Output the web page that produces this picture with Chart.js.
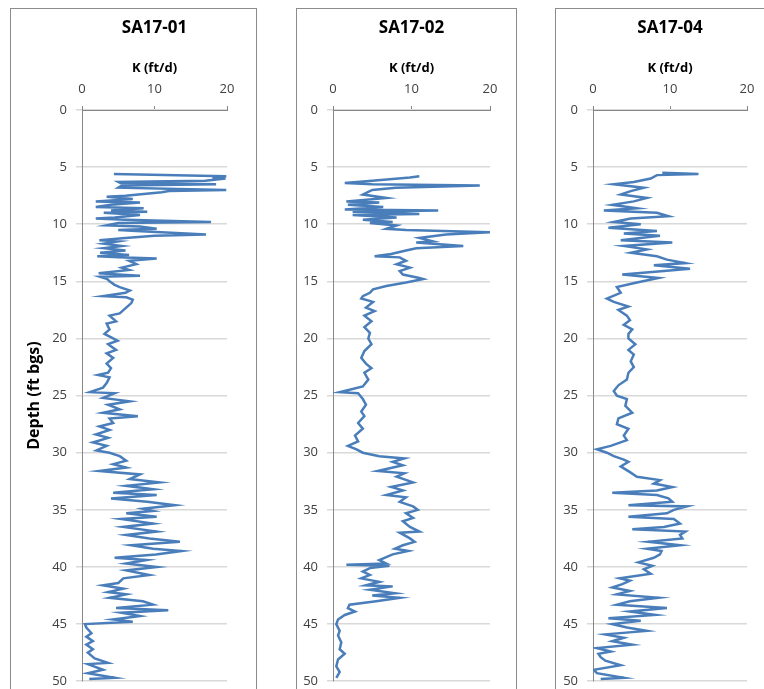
<!DOCTYPE html>
<html>
<head>
<meta charset="utf-8">
<script src="https://cdn.jsdelivr.net/npm/chart.js@4.4.1/dist/chart.umd.min.js"></script>
<style>
  html, body { margin: 0; padding: 0; background: #fff; overflow: hidden; }
  body { width: 764px; height: 689px; position: relative; }
  .panel { position: absolute; top: 8px; height: 690px; }
  .panel::after { content: ''; position: absolute; inset: 0; border: 1.5px solid #8c8c8c; pointer-events: none; }
  .panel canvas { position: absolute; left: 0; top: 0; }
</style>
</head>
<body>
<div class="panel" style="left:10px;width:247px"><canvas id="c1" width="247" height="690"></canvas></div>
<div class="panel" style="left:296px;width:221px"><canvas id="c2" width="221" height="690"></canvas></div>
<div class="panel" style="left:555px;width:221px"><canvas id="c3" width="221" height="690"></canvas></div>
<script>
// well names
const wells = ["SA17-01", "SA17-02", "SA17-04"];

// SA17-01: depth (ft bgs) and K (ft/d)
const depth1 = [5.6, 5.8, 5.9, 6.0, 6.2, 6.3, 6.4, 6.5, 6.6, 6.8, 7.0, 7.1, 7.2, 7.5, 7.6, 7.8, 8.0, 8.1, 8.3, 8.5,
  8.6, 8.8, 8.9, 9.0, 9.2, 9.4, 9.5, 9.6, 9.8, 9.9, 10.1, 10.2, 10.4, 10.5, 10.6, 10.9, 11.0, 11.2, 11.4, 11.5,
  11.7, 11.9, 12.1, 12.3, 12.5, 12.7, 12.8, 12.9, 13.0, 13.2, 13.5, 13.8, 14.0, 14.3, 14.4, 14.5, 14.6, 14.8, 15.0, 15.3,
  15.5, 15.8, 16.0, 16.3, 16.4, 16.6, 16.9, 17.3, 17.8, 18.0, 18.5, 18.7, 19.2, 19.6, 20.0, 20.2, 20.5, 21.0, 21.3, 21.7,
  22.2, 22.6, 23.0, 23.2, 23.4, 23.9, 24.3, 24.7, 24.8, 25.2, 25.5, 25.8, 26.2, 26.5, 26.8, 27.0, 27.4, 27.7, 28.0, 28.4,
  28.7, 29.1, 29.4, 29.8, 30.0, 30.3, 30.7, 31.0, 31.3, 31.6, 31.9, 32.3, 32.6, 32.9, 33.2, 33.5, 33.7, 34.0, 34.3, 34.6,
  34.9, 35.1, 35.3, 35.6, 35.8, 36.2, 36.5, 36.9, 37.2, 37.5, 37.8, 38.1, 38.4, 38.6, 38.9, 39.2, 39.4, 39.7, 40.0, 40.3,
  40.7, 41.0, 41.4, 41.6, 41.9, 42.2, 42.4, 42.7, 43.0, 43.3, 43.6, 43.8, 44.0, 44.3, 44.6, 44.8, 45.0, 45.3, 45.8, 46.1,
  46.5, 46.8, 47.2, 47.5, 48.0, 48.4, 48.5, 49.0, 49.3, 49.7, 49.8];
const k1 = [4.4, 19.9, 18.0, 19.8, 17.0, 5.0, 5.3, 18.5, 5.5, 5.0, 19.9, 12.0, 11.0, 6.0, 3.4, 7.0, 1.9, 8.0, 4.0, 1.9,
  8.5, 4.0, 9.0, 3.0, 8.0, 4.5, 1.9, 6.0, 17.8, 5.0, 3.4, 8.0, 10.3, 5.0, 7.5, 17.1, 10.0, 6.0, 2.4, 5.0,
  3.0, 5.5, 3.0, 6.0, 2.5, 6.5, 2.1, 5.0, 10.3, 6.5, 7.5, 5.5, 6.5, 2.3, 5.0, 8.0, 2.5, 3.5, 3.8, 4.5,
  5.2, 6.6, 6.0, 2.9, 6.1, 7.0, 6.8, 6.1, 5.2, 3.8, 4.7, 3.4, 3.8, 3.1, 4.3, 4.9, 3.6, 4.7, 3.4, 4.3,
  3.4, 4.0, 3.6, 2.2, 3.8, 3.4, 2.9, 1.1, 4.5, 2.9, 6.6, 3.6, 5.2, 2.9, 7.7, 3.8, 4.3, 2.4, 3.8, 1.9,
  3.6, 1.5, 3.4, 2.0, 3.8, 5.2, 6.1, 4.3, 6.1, 2.4, 8.0, 6.6, 10.7, 6.1, 9.8, 4.3, 10.3, 4.0, 9.0, 12.8,
  8.4, 9.8, 6.1, 10.3, 5.4, 9.8, 5.7, 10.3, 6.1, 9.3, 13.5, 6.8, 9.8, 13.7, 10.2, 4.5, 8.9, 6.1, 10.3, 6.1,
  9.3, 5.7, 5.0, 2.9, 5.7, 3.6, 6.1, 3.8, 8.4, 9.8, 4.7, 11.9, 5.4, 8.0, 4.3, 7.0, 0.4, 0.6, 1.3, 0.6,
  1.5, 0.6, 1.5, 0.8, 1.75, 3.6, 0.8, 2.9, 0.8, 4.5, 1.0];

// SA17-02
const depth2 = [5.8, 5.9, 6.2, 6.4, 6.5, 6.6, 6.8, 7.0, 7.4, 7.7, 8.0, 8.1, 8.3, 8.5, 8.7, 8.8, 8.9, 9.1, 9.2, 9.4,
  9.6, 9.8, 9.9, 10.1, 10.4, 10.5, 10.7, 10.9, 11.2, 11.5, 11.6, 11.9, 12.1, 12.3, 12.6, 12.8, 12.9, 13.2, 13.5, 13.8,
  14.1, 14.4, 14.7, 14.8, 15.1, 15.4, 15.7, 16.0, 16.3, 16.5, 16.8, 17.3, 17.6, 18.0, 18.5, 19.0, 19.5, 20.0, 20.5, 21.1,
  21.7, 22.2, 22.6, 23.0, 23.6, 24.2, 24.7, 24.8, 25.3, 25.8, 26.4, 26.8, 27.4, 27.9, 28.5, 29.0, 29.4, 29.7, 30.0, 30.3,
  30.5, 30.8, 31.1, 31.6, 31.8, 32.1, 32.6, 33.0, 33.3, 33.7, 33.9, 34.3, 34.7, 35.0, 35.3, 35.7, 36.0, 36.5, 36.9, 37.0,
  37.5, 37.8, 38.1, 38.4, 38.6, 38.9, 39.4, 39.7, 39.8, 39.9, 40.1, 40.4, 40.7, 41.0, 41.3, 41.6, 41.7, 42.0, 42.3, 42.5,
  42.7, 43.0, 43.3, 43.6, 43.9, 44.2, 44.6, 45.0, 45.6, 46.0, 46.6, 47.2, 47.6, 48.1, 48.7, 49.2, 49.7];
const k2 = [11.0, 9.8, 5.0, 1.5, 5.0, 18.7, 8.0, 5.0, 3.8, 6.8, 1.7, 5.9, 1.9, 6.4, 1.5, 13.4, 2.5, 11.0, 2.5, 8.1,
  3.8, 7.6, 4.7, 8.1, 6.8, 9.3, 20.0, 14.4, 11.0, 12.7, 10.6, 16.6, 10.6, 9.3, 7.4, 5.3, 8.5, 9.3, 8.1, 9.8,
  8.5, 8.9, 11.0, 11.5, 9.3, 6.8, 5.1, 4.7, 3.8, 3.6, 5.1, 4.2, 5.3, 4.0, 4.9, 4.0, 4.7, 4.5, 4.9, 4.0,
  3.6, 4.2, 4.9, 4.0, 4.5, 3.8, 0.85, 3.2, 3.8, 4.2, 3.6, 4.0, 3.2, 3.8, 2.8, 3.2, 1.9, 3.0, 3.8, 5.9,
  9.1, 7.6, 8.9, 5.7, 9.1, 8.1, 10.2, 7.4, 8.9, 6.8, 9.3, 8.5, 10.2, 10.8, 9.3, 10.2, 8.9, 9.8, 11.0, 8.5,
  9.8, 10.4, 8.9, 7.9, 9.6, 7.6, 5.9, 6.8, 1.7, 7.2, 4.7, 3.8, 4.7, 3.6, 5.9, 4.2, 7.6, 4.7, 7.9, 5.0,
  8.5, 5.5, 2.1, 1.9, 2.8, 1.5, 0.64, 0.42, 0.85, 0.64, 1.06, 0.85, 1.49, 0.64, 0.42, 0.85, 0.42];

// SA17-04
const depth3 = [5.5, 5.6, 5.7, 6.0, 6.3, 6.5, 6.8, 7.1, 7.4, 7.7, 8.0, 8.3, 8.6, 8.8, 9.0, 9.3, 9.5, 9.8, 10.0, 10.3,
  10.6, 10.8, 11.0, 11.4, 11.6, 11.9, 12.2, 12.5, 12.8, 13.1, 13.4, 13.6, 13.9, 14.1, 14.4, 14.7, 15.1, 15.5, 16.0, 16.5,
  16.8, 17.2, 17.5, 18.0, 18.4, 18.8, 19.2, 19.6, 20.0, 20.5, 21.0, 21.4, 22.0, 22.5, 23.0, 23.6, 24.1, 24.6, 25.0, 25.3,
  25.9, 26.5, 27.0, 27.5, 27.9, 28.5, 28.9, 29.4, 29.7, 30.0, 30.3, 30.6, 30.8, 31.2, 31.7, 32.1, 32.4, 32.7, 33.0, 33.3,
  33.5, 33.7, 34.0, 34.3, 34.6, 34.7, 35.0, 35.3, 35.6, 35.8, 36.2, 36.5, 36.7, 36.9, 37.2, 37.5, 37.8, 38.1, 38.4, 38.6,
  38.9, 39.2, 39.6, 39.9, 40.2, 40.6, 41.0, 41.2, 41.5, 41.8, 42.1, 42.4, 42.7, 43.0, 43.3, 43.6, 43.9, 44.2, 44.5, 44.7,
  45.0, 45.3, 45.6, 45.9, 46.2, 46.5, 46.8, 47.1, 47.4, 47.6, 47.9, 48.2, 48.6, 49.0, 49.3, 49.7, 49.8];
const k3 = [9.0, 13.7, 8.3, 7.5, 5.3, 2.7, 6.6, 4.9, 3.6, 7.0, 5.3, 2.5, 5.7, 1.4, 8.3, 9.8, 4.9, 2.7, 6.2, 2.0,
  8.3, 4.0, 8.7, 3.6, 10.3, 4.0, 7.0, 4.9, 8.3, 9.6, 12.0, 7.9, 12.6, 9.2, 3.8, 8.5, 5.7, 3.1, 3.6, 1.8,
  2.7, 4.6, 3.3, 4.4, 4.8, 4.0, 5.1, 4.6, 4.6, 5.5, 4.6, 5.3, 4.9, 5.3, 4.6, 4.4, 3.3, 2.7, 3.1, 4.4,
  4.2, 5.1, 3.3, 3.1, 4.6, 4.0, 4.4, 2.3, 0.5, 1.8, 2.7, 4.0, 4.6, 3.6, 4.8, 5.7, 8.7, 7.9, 10.3, 8.3,
  2.5, 8.3, 9.8, 10.3, 4.6, 12.2, 10.5, 9.6, 4.6, 10.5, 11.3, 9.2, 5.1, 12.0, 11.3, 11.6, 7.2, 11.3, 7.0, 8.9,
  8.7, 7.9, 5.9, 7.7, 6.6, 7.5, 3.5, 4.8, 3.8, 2.5, 4.8, 3.1, 8.5, 4.8, 3.1, 9.6, 4.8, 8.1, 2.0, 6.2,
  2.5, 4.4, 7.0, 1.6, 4.0, 2.5, 5.1, 0.5, 2.3, 0.7, 1.0, 1.6, 3.6, 0.1, 0.5, 4.0, 1.0];

// axis ticks
const kTicks = [0, 10, 20];
const depthTicks = [0, 5, 10, 15, 20, 25, 30, 35, 40, 45, 50];

const FONT = "'Open Sans', 'Liberation Sans', sans-serif";
Chart.defaults.font.family = FONT;
Chart.defaults.color = "#404040";

function makeChart(id, title, depth, k, yWidth, padRight, showDepthTitle) {
    const ctx = document.getElementById(id).getContext("2d");
    const points = depth.map((d, i) => ({ x: k[i], y: d }));

    return new Chart(ctx, {
        type: "line",
        data: {
            datasets: [{
                data: points,
                borderColor: "#4a7ebb",
                borderWidth: 2.5,
                pointRadius: 0,
                fill: false,
                tension: 0
            }]
        },
        options: {
            responsive: false,
            animation: false,
            indexAxis: "y",
            layout: { padding: { left: 0, right: padRight, top: 0, bottom: 15.5 } },
            plugins: {
                legend: { display: false },
                tooltip: { enabled: false },
                title: {
                    display: true,
                    text: title,
                    fullSize: false,
                    color: "#000",
                    font: { size: 17, weight: "bold" },
                    padding: { top: 10, bottom: 6 }
                }
            },
            scales: {
                x: {
                    type: "linear",
                    position: "top",
                    min: kTicks[0],
                    max: kTicks[kTicks.length - 1],
                    afterBuildTicks: s => { s.ticks = kTicks.map(v => ({ value: v })); },
                    afterFit: s => { s.height = 65.6; },
                    ticks: { font: { size: 13 }, padding: 9 },
                    grid: { drawOnChartArea: false, color: "#868686", tickLength: 4 },
                    border: { color: "#868686", width: 1 },
                    title: {
                        display: true,
                        text: "K (ft/d)",
                        color: "#000",
                        font: { size: 13, weight: "bold" },
                        padding: { top: 16.5, bottom: 0 }
                    }
                },
                y: {
                    type: "linear",
                    reverse: true,
                    min: depthTicks[0],
                    max: depthTicks[depthTicks.length - 1],
                    afterBuildTicks: s => { s.ticks = depthTicks.map(v => ({ value: v })); },
                    afterFit: s => { s.width = yWidth; },
                    ticks: { font: { size: 13 }, padding: 9 },
                    grid: { color: "#d9d9d9", lineWidth: 1.5, tickLength: 6 },
                    border: { color: "#868686", width: 1 },
                    title: {
                        display: showDepthTitle,
                        text: "Depth (ft bgs)",
                        color: "#000",
                        font: { size: 16, weight: "bold" },
                        padding: { top: 15, bottom: 0 }
                    }
                }
            }
        }
    });
}

makeChart("c1", wells[0], depth1, k1, 72, 30, true);
makeChart("c2", wells[1], depth2, k2, 37, 27, false);
makeChart("c3", wells[2], depth3, k3, 38, 29, false);
</script>
</body>
</html>
